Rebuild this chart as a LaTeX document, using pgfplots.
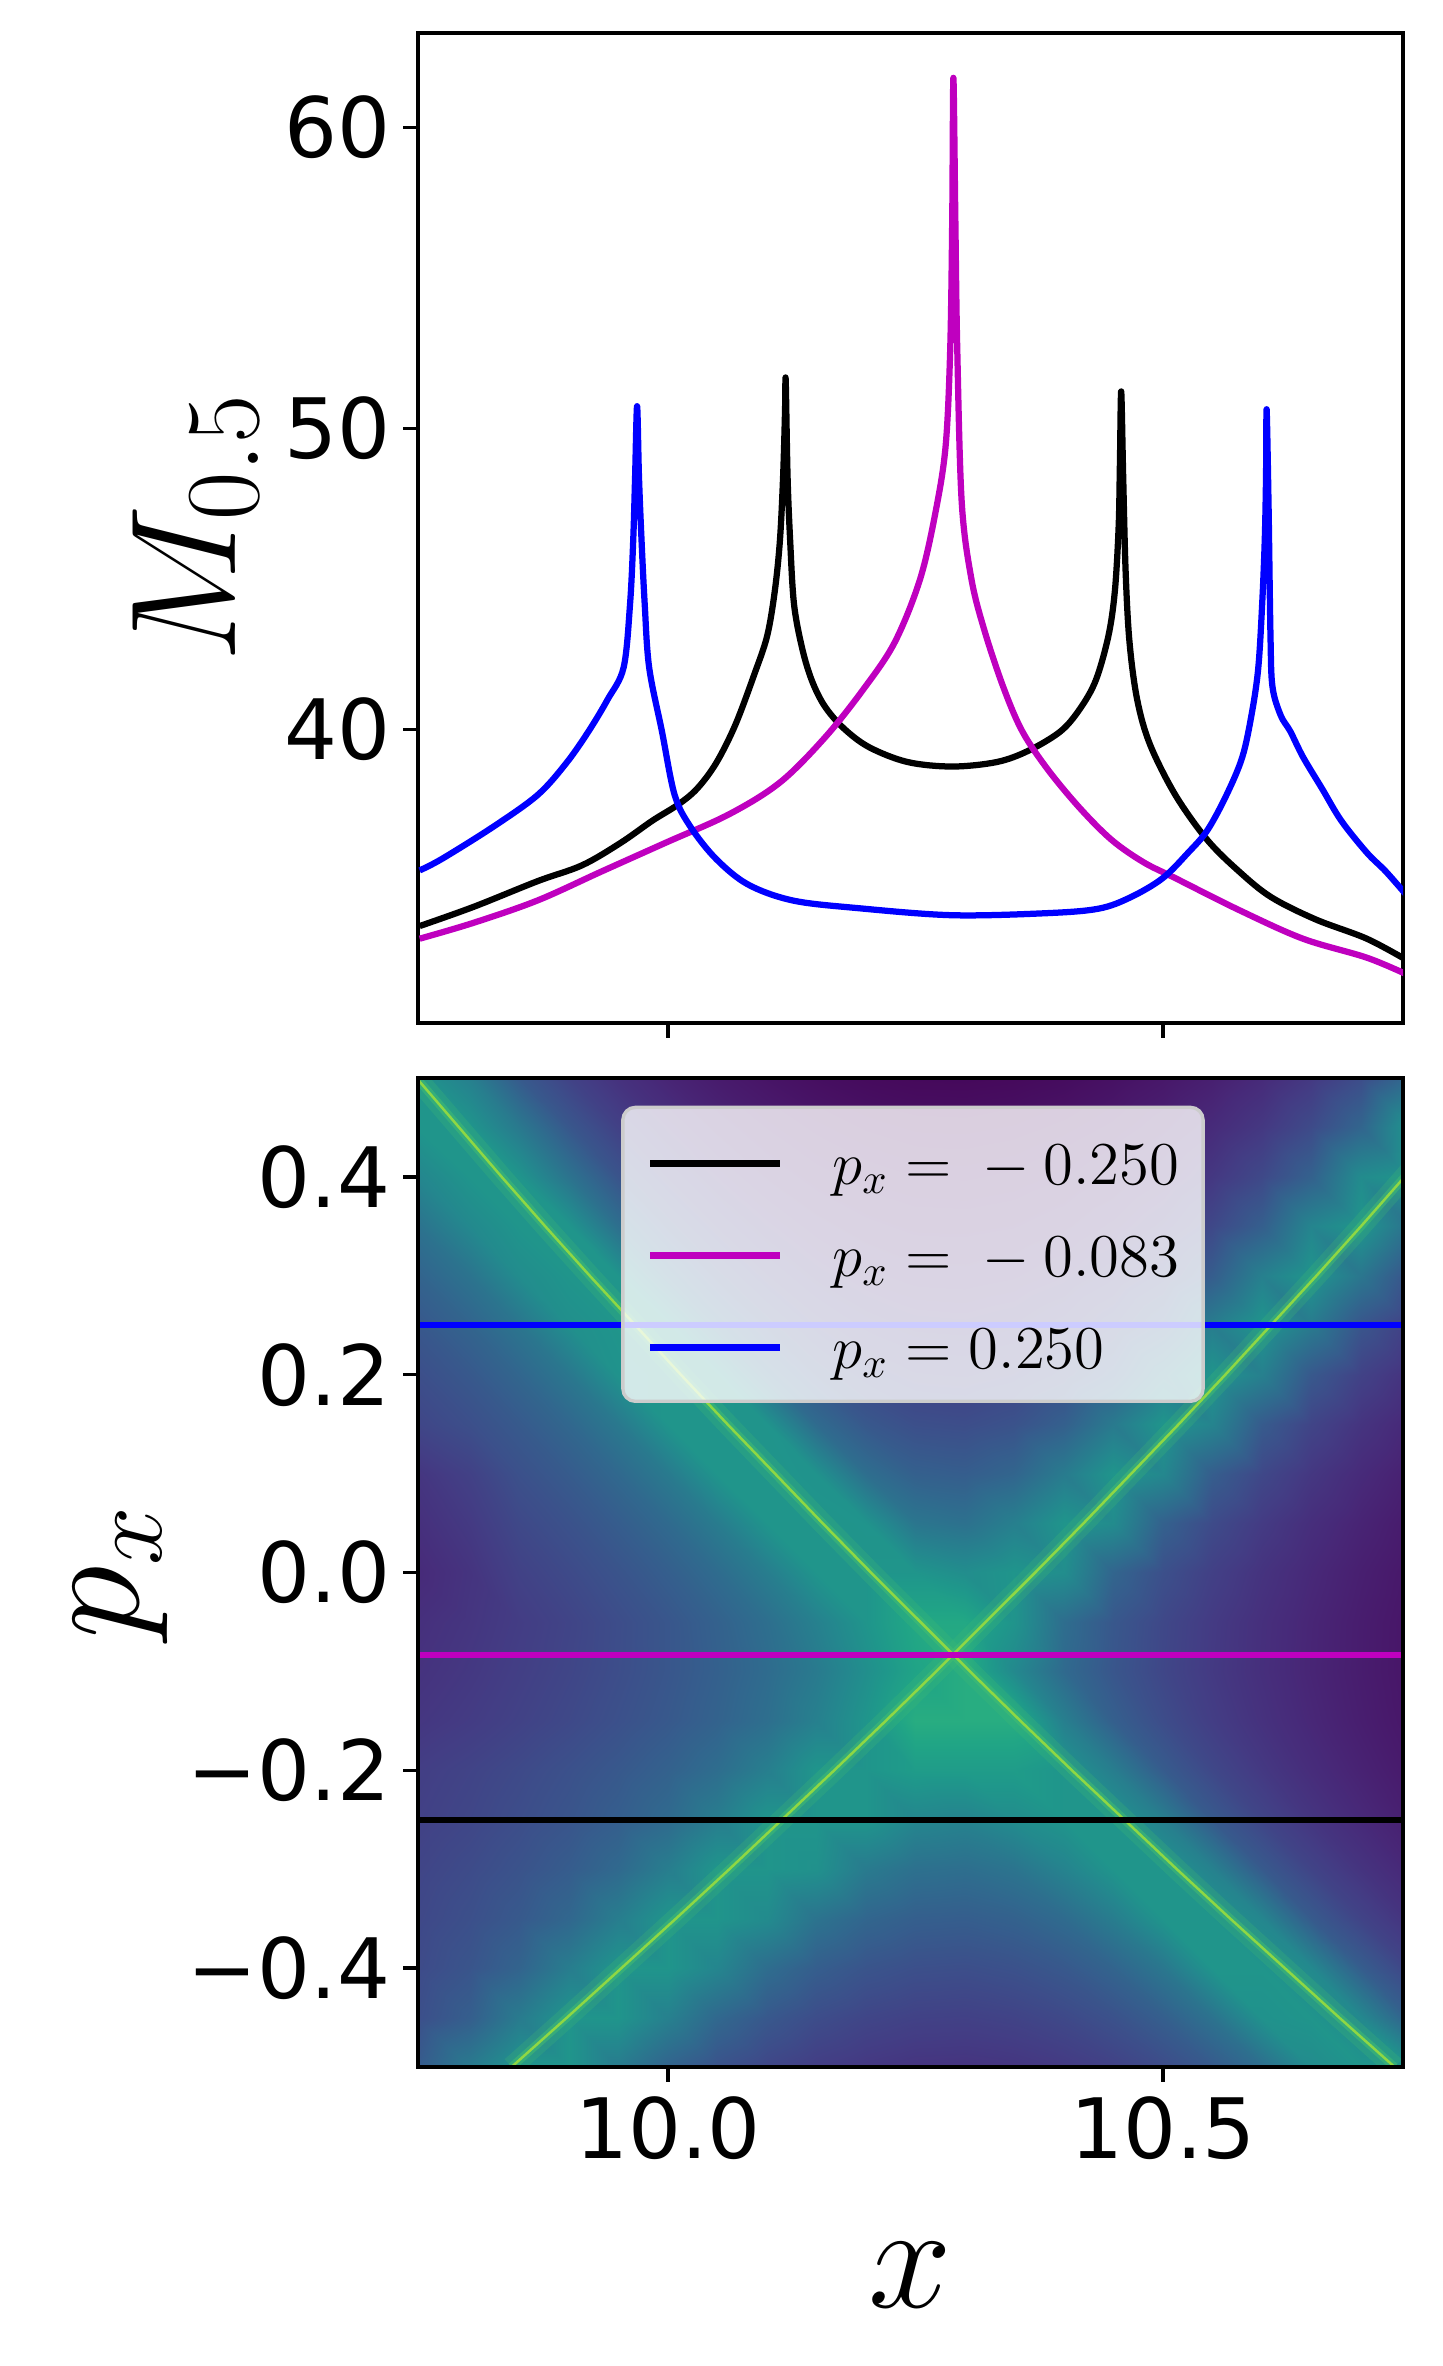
\RequirePackage{fix-cm}
\documentclass[border=0pt]{standalone}
\usepackage[no-math]{fontspec}
\setmainfont{DejaVu Sans}
\usepackage{pgfplots}
\usepackage{pgfplotstable}
\pgfplotsset{compat=1.18}
\usepgfplotslibrary{colormaps}
\definecolor{mplmag}{rgb}{0.75,0,0.75}
\definecolor{xglow}{HTML}{44BF70}
\definecolor{xcore}{HTML}{8FD744}

\pgfplotstableread{
x y c
9.745 -0.50 0.281
9.80 -0.50 0.411
9.85 -0.50 0.52
9.90 -0.50 0.52
9.95 -0.50 0.413
10.00 -0.50 0.315
10.05 -0.50 0.252
10.10 -0.50 0.209
10.15 -0.50 0.179
10.20 -0.50 0.161
10.25 -0.50 0.150
10.30 -0.50 0.148
10.35 -0.50 0.154
10.40 -0.50 0.168
10.45 -0.50 0.192
10.50 -0.50 0.228
10.55 -0.50 0.279
10.60 -0.50 0.357
10.65 -0.50 0.482
10.70 -0.50 0.52
10.75 -0.50 0.52
9.745 -0.45 0.237
9.80 -0.45 0.297
9.85 -0.45 0.412
9.90 -0.45 0.52
9.95 -0.45 0.52
10.00 -0.45 0.434
10.05 -0.45 0.334
10.10 -0.45 0.272
10.15 -0.45 0.231
10.20 -0.45 0.206
10.25 -0.45 0.193
10.30 -0.45 0.190
10.35 -0.45 0.198
10.40 -0.45 0.217
10.45 -0.45 0.248
10.50 -0.45 0.298
10.55 -0.45 0.376
10.60 -0.45 0.507
10.65 -0.45 0.52
10.70 -0.45 0.468
10.75 -0.45 0.302
9.745 -0.40 0.223
9.80 -0.40 0.261
9.85 -0.40 0.317
9.90 -0.40 0.420
9.95 -0.40 0.52
10.00 -0.40 0.52
10.05 -0.40 0.455
10.10 -0.40 0.354
10.15 -0.40 0.295
10.20 -0.40 0.259
10.25 -0.40 0.241
10.30 -0.40 0.237
10.35 -0.40 0.248
10.40 -0.40 0.274
10.45 -0.40 0.319
10.50 -0.40 0.395
10.55 -0.40 0.52
10.60 -0.40 0.52
10.65 -0.40 0.470
10.70 -0.40 0.292
10.75 -0.40 0.202
9.745 -0.35 0.214
9.80 -0.35 0.242
9.85 -0.35 0.278
9.90 -0.35 0.331
9.95 -0.35 0.423
10.00 -0.35 0.52
10.05 -0.35 0.52
10.10 -0.35 0.478
10.15 -0.35 0.379
10.20 -0.35 0.325
10.25 -0.35 0.298
10.30 -0.35 0.293
10.35 -0.35 0.308
10.40 -0.35 0.346
10.45 -0.35 0.419
10.50 -0.35 0.52
10.55 -0.35 0.52
10.60 -0.35 0.459
10.65 -0.35 0.284
10.70 -0.35 0.200
10.75 -0.35 0.145
9.745 -0.30 0.204
9.80 -0.30 0.227
9.85 -0.30 0.254
9.90 -0.30 0.289
9.95 -0.30 0.339
10.00 -0.30 0.423
10.05 -0.30 0.52
10.10 -0.30 0.52
10.15 -0.30 0.504
10.20 -0.30 0.410
10.25 -0.30 0.368
10.30 -0.30 0.360
10.35 -0.30 0.383
10.40 -0.30 0.446
10.45 -0.30 0.52
10.50 -0.30 0.52
10.55 -0.30 0.439
10.60 -0.30 0.280
10.65 -0.30 0.201
10.70 -0.30 0.148
10.75 -0.30 0.108
9.745 -0.25 0.190
9.80 -0.25 0.210
9.85 -0.25 0.234
9.90 -0.25 0.261
9.95 -0.25 0.296
10.00 -0.25 0.343
10.05 -0.25 0.421
10.10 -0.25 0.52
10.15 -0.25 0.52
10.20 -0.25 0.52
10.25 -0.25 0.457
10.30 -0.25 0.443
10.35 -0.25 0.484
10.40 -0.25 0.52
10.45 -0.25 0.52
10.50 -0.25 0.428
10.55 -0.25 0.281
10.60 -0.25 0.205
10.65 -0.25 0.154
10.70 -0.25 0.115
10.75 -0.25 0.083
9.745 -0.20 0.181
9.80 -0.20 0.200
9.85 -0.20 0.221
9.90 -0.20 0.246
9.95 -0.20 0.274
10.00 -0.20 0.309
10.05 -0.20 0.355
10.10 -0.20 0.427
10.15 -0.20 0.52
10.20 -0.20 0.52
10.25 -0.20 0.55
10.30 -0.20 0.55
10.35 -0.20 0.55
10.40 -0.20 0.52
10.45 -0.20 0.422
10.50 -0.20 0.286
10.55 -0.20 0.214
10.60 -0.20 0.164
10.65 -0.20 0.125
10.70 -0.20 0.094
10.75 -0.20 0.067
9.745 -0.15 0.156
9.80 -0.15 0.174
9.85 -0.15 0.195
9.90 -0.15 0.218
9.95 -0.15 0.245
10.00 -0.15 0.276
10.05 -0.15 0.313
10.10 -0.15 0.361
10.15 -0.15 0.433
10.20 -0.15 0.52
10.25 -0.15 0.62
10.30 -0.15 0.62
10.35 -0.15 0.62
10.40 -0.15 0.428
10.45 -0.15 0.301
10.50 -0.15 0.231
10.55 -0.15 0.180
10.60 -0.15 0.141
10.65 -0.15 0.109
10.70 -0.15 0.081
10.75 -0.15 0.057
9.745 -0.10 0.143
9.80 -0.10 0.162
9.85 -0.10 0.184
9.90 -0.10 0.207
9.95 -0.10 0.234
10.00 -0.10 0.266
10.05 -0.10 0.303
10.10 -0.10 0.348
10.15 -0.10 0.408
10.20 -0.10 0.494
10.25 -0.10 0.58
10.30 -0.10 0.62
10.35 -0.10 0.470
10.40 -0.10 0.341
10.45 -0.10 0.265
10.50 -0.10 0.210
10.55 -0.10 0.167
10.60 -0.10 0.132
10.65 -0.10 0.102
10.70 -0.10 0.076
10.75 -0.10 0.053
9.745 -0.05 0.134
9.80 -0.05 0.154
9.85 -0.05 0.177
9.90 -0.05 0.202
9.95 -0.05 0.232
10.00 -0.05 0.266
10.05 -0.05 0.308
10.10 -0.05 0.361
10.15 -0.05 0.435
10.20 -0.05 0.52
10.25 -0.05 0.60
10.30 -0.05 0.60
10.35 -0.05 0.516
10.40 -0.05 0.355
10.45 -0.05 0.271
10.50 -0.05 0.214
10.55 -0.05 0.170
10.60 -0.05 0.134
10.65 -0.05 0.104
10.70 -0.05 0.077
10.75 -0.05 0.054
9.745 0.00 0.117
9.80 0.00 0.149
9.85 0.00 0.194
9.90 0.00 0.223
9.95 0.00 0.257
10.00 0.00 0.298
10.05 0.00 0.350
10.10 0.00 0.423
10.15 0.00 0.52
10.20 0.00 0.52
10.25 0.00 0.52
10.30 0.00 0.488
10.35 0.00 0.52
10.40 0.00 0.490
10.45 0.00 0.324
10.50 0.00 0.242
10.55 0.00 0.188
10.60 0.00 0.146
10.65 0.00 0.113
10.70 0.00 0.084
10.75 0.00 0.060
9.745 0.05 0.134
9.80 0.05 0.168
9.85 0.05 0.217
9.90 0.05 0.250
9.95 0.05 0.291
10.00 0.05 0.343
10.05 0.05 0.415
10.10 0.05 0.52
10.15 0.05 0.52
10.20 0.05 0.514
10.25 0.05 0.390
10.30 0.05 0.370
10.35 0.05 0.430
10.40 0.05 0.52
10.45 0.05 0.481
10.50 0.05 0.307
10.55 0.05 0.225
10.60 0.05 0.171
10.65 0.05 0.130
10.70 0.05 0.098
10.75 0.05 0.070
9.745 0.10 0.153
9.80 0.10 0.191
9.85 0.10 0.245
9.90 0.10 0.285
9.95 0.10 0.337
10.00 0.10 0.409
10.05 0.10 0.52
10.10 0.10 0.52
10.15 0.10 0.511
10.20 0.10 0.359
10.25 0.10 0.303
10.30 0.10 0.293
10.35 0.10 0.323
10.40 0.10 0.413
10.45 0.10 0.52
10.50 0.10 0.464
10.55 0.10 0.294
10.60 0.10 0.213
10.65 0.10 0.159
10.70 0.10 0.118
10.75 0.10 0.086
9.745 0.15 0.207
9.80 0.15 0.240
9.85 0.15 0.280
9.90 0.15 0.332
9.95 0.15 0.403
10.00 0.15 0.52
10.05 0.15 0.52
10.10 0.15 0.515
10.15 0.15 0.346
10.20 0.15 0.273
10.25 0.15 0.240
10.30 0.15 0.234
10.35 0.15 0.252
10.40 0.15 0.302
10.45 0.15 0.407
10.50 0.15 0.52
10.55 0.15 0.450
10.60 0.15 0.284
10.65 0.15 0.203
10.70 0.15 0.149
10.75 0.15 0.109
9.745 0.20 0.236
9.80 0.20 0.275
9.85 0.20 0.326
9.90 0.20 0.396
9.95 0.20 0.509
10.00 0.20 0.52
10.05 0.20 0.52
10.10 0.20 0.343
10.15 0.20 0.259
10.20 0.20 0.214
10.25 0.20 0.192
10.30 0.20 0.188
10.35 0.20 0.200
10.40 0.20 0.232
10.45 0.20 0.292
10.50 0.20 0.410
10.55 0.20 0.52
10.60 0.20 0.432
10.65 0.20 0.274
10.70 0.20 0.194
10.75 0.20 0.141
9.745 0.25 0.270
9.80 0.25 0.320
9.85 0.25 0.388
9.90 0.25 0.496
9.95 0.25 0.52
10.00 0.25 0.52
10.05 0.25 0.346
10.10 0.25 0.253
10.15 0.25 0.199
10.20 0.25 0.168
10.25 0.25 0.152
10.30 0.25 0.149
10.35 0.25 0.158
10.40 0.25 0.181
10.45 0.25 0.221
10.50 0.25 0.290
10.55 0.25 0.420
10.60 0.25 0.52
10.65 0.25 0.410
10.70 0.25 0.263
10.75 0.25 0.185
9.745 0.30 0.314
9.80 0.30 0.381
9.85 0.30 0.484
9.90 0.30 0.52
9.95 0.30 0.52
10.00 0.30 0.352
10.05 0.30 0.251
10.10 0.30 0.191
10.15 0.30 0.153
10.20 0.30 0.130
10.25 0.30 0.118
10.30 0.30 0.116
10.35 0.30 0.123
10.40 0.30 0.140
10.45 0.30 0.169
10.50 0.30 0.216
10.55 0.30 0.292
10.60 0.30 0.433
10.65 0.30 0.52
10.70 0.30 0.391
10.75 0.30 0.252
9.745 0.35 0.372
9.80 0.35 0.470
9.85 0.35 0.52
9.90 0.35 0.52
9.95 0.35 0.363
10.00 0.35 0.253
10.05 0.35 0.188
10.10 0.35 0.145
10.15 0.35 0.117
10.20 0.35 0.099
10.25 0.35 0.089
10.30 0.35 0.088
10.35 0.35 0.093
10.40 0.35 0.106
10.45 0.35 0.129
10.50 0.35 0.163
10.55 0.35 0.215
10.60 0.35 0.298
10.65 0.35 0.452
10.70 0.35 0.52
10.75 0.35 0.370
9.745 0.40 0.455
9.80 0.40 0.52
9.85 0.40 0.52
9.90 0.40 0.380
9.95 0.40 0.259
10.00 0.40 0.188
10.05 0.40 0.141
10.10 0.40 0.108
10.15 0.40 0.086
10.20 0.40 0.072
10.25 0.40 0.064
10.30 0.40 0.062
10.35 0.40 0.067
10.40 0.40 0.078
10.45 0.40 0.095
10.50 0.40 0.122
10.55 0.40 0.161
10.60 0.40 0.218
10.65 0.40 0.308
10.70 0.40 0.481
10.75 0.40 0.52
9.745 0.45 0.52
9.80 0.45 0.52
9.85 0.45 0.403
9.90 0.45 0.269
9.95 0.45 0.191
10.00 0.45 0.140
10.05 0.45 0.104
10.10 0.45 0.078
10.15 0.45 0.060
10.20 0.45 0.048
10.25 0.45 0.041
10.30 0.45 0.040
10.35 0.45 0.044
10.40 0.45 0.053
10.45 0.45 0.067
10.50 0.45 0.089
10.55 0.45 0.120
10.60 0.45 0.162
10.65 0.45 0.224
10.70 0.45 0.323
10.75 0.45 0.52
9.745 0.50 0.52
9.80 0.50 0.431
9.85 0.50 0.281
9.90 0.50 0.197
9.95 0.50 0.141
10.00 0.50 0.101
10.05 0.50 0.072
10.10 0.50 0.051
10.15 0.50 0.036
10.20 0.50 0.026
10.25 0.50 0.021
10.30 0.50 0.020
10.35 0.50 0.023
10.40 0.50 0.030
10.45 0.50 0.043
10.50 0.50 0.061
10.55 0.50 0.085
10.60 0.50 0.119
10.65 0.50 0.165
10.70 0.50 0.232
10.75 0.50 0.340
}\heat

\pgfplotstableread{
x y
9.746 0.50
9.789 0.45
9.832 0.40
9.876 0.35
9.921 0.30
9.967 0.25
10.013 0.20
10.060 0.15
10.108 0.10
10.156 0.05
10.205 0.00
10.255 -0.05
10.288 -0.083
10.305 -0.10
10.356 -0.15
10.408 -0.20
10.461 -0.25
10.514 -0.30
10.568 -0.35
10.623 -0.40
10.678 -0.45
10.734 -0.50
}\lineA

\pgfplotstableread{
x y
9.842 -0.50
9.898 -0.45
9.953 -0.40
10.008 -0.35
10.062 -0.30
10.115 -0.25
10.168 -0.20
10.220 -0.15
10.271 -0.10
10.288 -0.083
10.321 -0.05
10.371 0.00
10.420 0.05
10.468 0.10
10.516 0.15
10.563 0.20
10.609 0.25
10.655 0.30
10.700 0.35
10.744 0.40
10.787 0.45
10.830 0.50
}\lineB

\begin{document}
\begin{tikzpicture}
\useasboundingbox (-100.32pt,-71.76pt) rectangle (245.76pt,496.08pt);
\pgfplotsset{
  common/.style={
    scale only axis,
    width=236.4pt,
    xmin=9.7475, xmax=10.7425,
    xtick={10,10.5},
    tick align=outside,
    xtick pos=left, ytick pos=left,
    major tick length=3.5pt,
    minor tick num=0,
    tick style={line width=0.8pt, black},
    axis line style={line width=0.8pt},
    tick label style={font=\fontsize{20}{24}\selectfont},
    yticklabel style={anchor=east, inner sep=0pt, xshift=-3pt},
    xticklabel style={anchor=north, inner sep=0pt, yshift=-3.4pt},
  }
}
% bottom panel
\begin{axis}[common,
  at={(0,0)}, anchor=south west,
  height=237.36pt,
  ymin=-0.5, ymax=0.5,
  ytick={-0.4,-0.2,0,0.2,0.4},
  yticklabels={−0.4,−0.2,0.0,0.2,0.4},
  xticklabels={10.0,10.5},
  axis on top,
  colormap/viridis,
  point meta min=0, point meta max=1,
  xlabel={$x$}, ylabel={$p_x$},
  every axis x label/.style={at={(axis description cs:0.5,-0.2435)}, anchor=base, font=\fontsize{36}{40}\selectfont},
  every axis y label/.style={at={(axis description cs:-0.2834,0.5)}, rotate=90, anchor=base, font=\fontsize{36}{40}\selectfont},
  legend style={at={(axis description cs:0.5025,0.972)}, anchor=north,
    draw=black!20, line width=0.8pt, fill=white, fill opacity=0.8,
    draw opacity=1, text opacity=1, rounded corners=3pt,
    font=\fontsize{14.6}{17.5}\selectfont,
    inner xsep=5.8pt, inner ysep=3.5pt, row sep=2.68pt,
    nodes={inner sep=0pt, text height=15pt, text depth=4.4pt}},
  legend cell align=left,
  legend image code/.code={\draw[#1] (0pt,-0.3pt) -- (31.2pt,-0.3pt); \path (0pt,0pt) (43pt,0pt);},
]
\addplot[forget plot, surf, shader=interp, mesh/cols=21, point meta=explicit]
  table[x=x, y=y, meta=c] {\heat};
\addplot[forget plot, xglow, line width=5pt, opacity=0.22] table[x=x,y=y] {\lineA};
\addplot[forget plot, xglow, line width=5pt, opacity=0.22] table[x=x,y=y] {\lineB};
\addplot[forget plot, xglow, line width=2pt, opacity=0.5] table[x=x,y=y] {\lineA};
\addplot[forget plot, xglow, line width=2pt, opacity=0.5] table[x=x,y=y] {\lineB};
\addplot[forget plot, xcore, line width=0.6pt] table[x=x,y=y] {\lineA};
\addplot[forget plot, xcore, line width=0.6pt] table[x=x,y=y] {\lineB};
\addplot[black, line width=1.5pt] coordinates {(9.70,-0.25) (10.80,-0.25)};
\addlegendentry{$p_x = {}-0.250$}
\addplot[mplmag, line width=1.5pt] coordinates {(9.70,-0.0833) (10.80,-0.0833)};
\addlegendentry{$p_x = {}-0.083$}
\addplot[blue, line width=1.5pt] coordinates {(9.70,0.25) (10.80,0.25)};
\addlegendentry{$p_x = 0.250$}
\end{axis}
% top panel
\begin{axis}[common,
  at={(0,250.56pt)}, anchor=south west,
  height=237.6pt,
  ymin=30.25, ymax=63.14,
  ytick={40,50,60},
  yticklabels={40,50,60},
  xticklabels={\mbox{},\mbox{}},
  ylabel={$M_{0.5}$},
  every axis y label/.style={at={(axis description cs:-0.18487,0.5)}, rotate=90, anchor=base, font=\fontsize{36}{40}\selectfont},
]
\addplot[black, line width=1.5pt, line join=round, smooth, tension=0.55] coordinates {
(9.7492,33.47) (9.8038,34.11) (9.8682,34.96) (9.9133,35.49) (9.9520,36.23) (9.9842,36.97) (10.0100,37.50) (10.0293,38.03) (10.0486,38.88) (10.0680,40.15) (10.0873,41.84) (10.1002,43.11) (10.1079,44.60) (10.1131,46.29) (10.1163,48.41) (10.1182,50.53) (10.1189,51.63) (10.1208,48.41) (10.1234,46.29) (10.1273,44.17) (10.1356,42.69) (10.1453,41.63) (10.1582,40.78) (10.1775,40.04) (10.2033,39.41) (10.2420,38.92) (10.2871,38.77) (10.3322,38.92) (10.3644,39.30) (10.3966,39.94) (10.4160,40.68) (10.4321,41.63) (10.4449,43.11) (10.4514,44.60) (10.4552,46.72) (10.4565,48.83) (10.4578,51.23) (10.4598,48.41) (10.4623,45.23) (10.4662,42.90) (10.4739,41.00) (10.4868,39.51) (10.5126,37.82) (10.5448,36.33) (10.5770,35.28) (10.6093,34.43) (10.6543,33.69) (10.7059,33.05) (10.7478,32.31)};
\addplot[mplmag, line width=1.5pt, line join=round, smooth, tension=0.55] coordinates {
(9.7492,33.05) (9.8038,33.58) (9.8682,34.32) (9.9327,35.28) (9.9971,36.23) (10.0615,37.18) (10.1131,38.24) (10.1582,39.72) (10.1968,41.31) (10.2291,42.90) (10.2549,45.02) (10.2710,47.35) (10.2806,49.47) (10.2851,52.65) (10.2871,56.89) (10.2883,61.65) (10.2903,56.89) (10.2922,52.65) (10.2967,47.56) (10.3064,45.02) (10.3193,43.33) (10.3386,41.42) (10.3579,39.94) (10.3837,38.67) (10.4160,37.39) (10.4482,36.33) (10.4804,35.59) (10.5126,35.06) (10.5770,34.00) (10.6414,33.05) (10.7059,32.42) (10.7478,31.84)};
\addplot[blue, line width=1.5pt, line join=round, smooth, tension=0.55] coordinates {
(9.7492,35.32) (9.7716,35.70) (9.8231,36.76) (9.8682,37.82) (9.8972,38.88) (9.9198,39.94) (9.9391,41.00) (9.9552,42.06) (9.9617,44.17) (9.9649,46.29) (9.9668,48.41) (9.9688,50.74) (9.9707,48.41) (9.9733,46.29) (9.9765,44.17) (9.9810,42.06) (9.9939,39.94) (10.0068,37.82) (10.0229,36.76) (10.0486,35.70) (10.0809,34.85) (10.1260,34.32) (10.1904,34.07) (10.2871,33.83) (10.3837,33.90) (10.4353,34.05) (10.4675,34.43) (10.4997,35.06) (10.5255,35.91) (10.5448,36.65) (10.5641,37.82) (10.5802,39.09) (10.5899,40.57) (10.5963,42.06) (10.6002,44.17) (10.6028,46.29) (10.6041,48.41) (10.6047,50.64) (10.6067,47.35) (10.6086,43.11) (10.6106,41.42) (10.6189,40.47) (10.6286,39.94) (10.6414,39.09) (10.6608,38.03) (10.6801,36.97) (10.7059,35.91) (10.7252,35.28) (10.7478,34.43)};
\end{axis}
\end{tikzpicture}
\end{document}
